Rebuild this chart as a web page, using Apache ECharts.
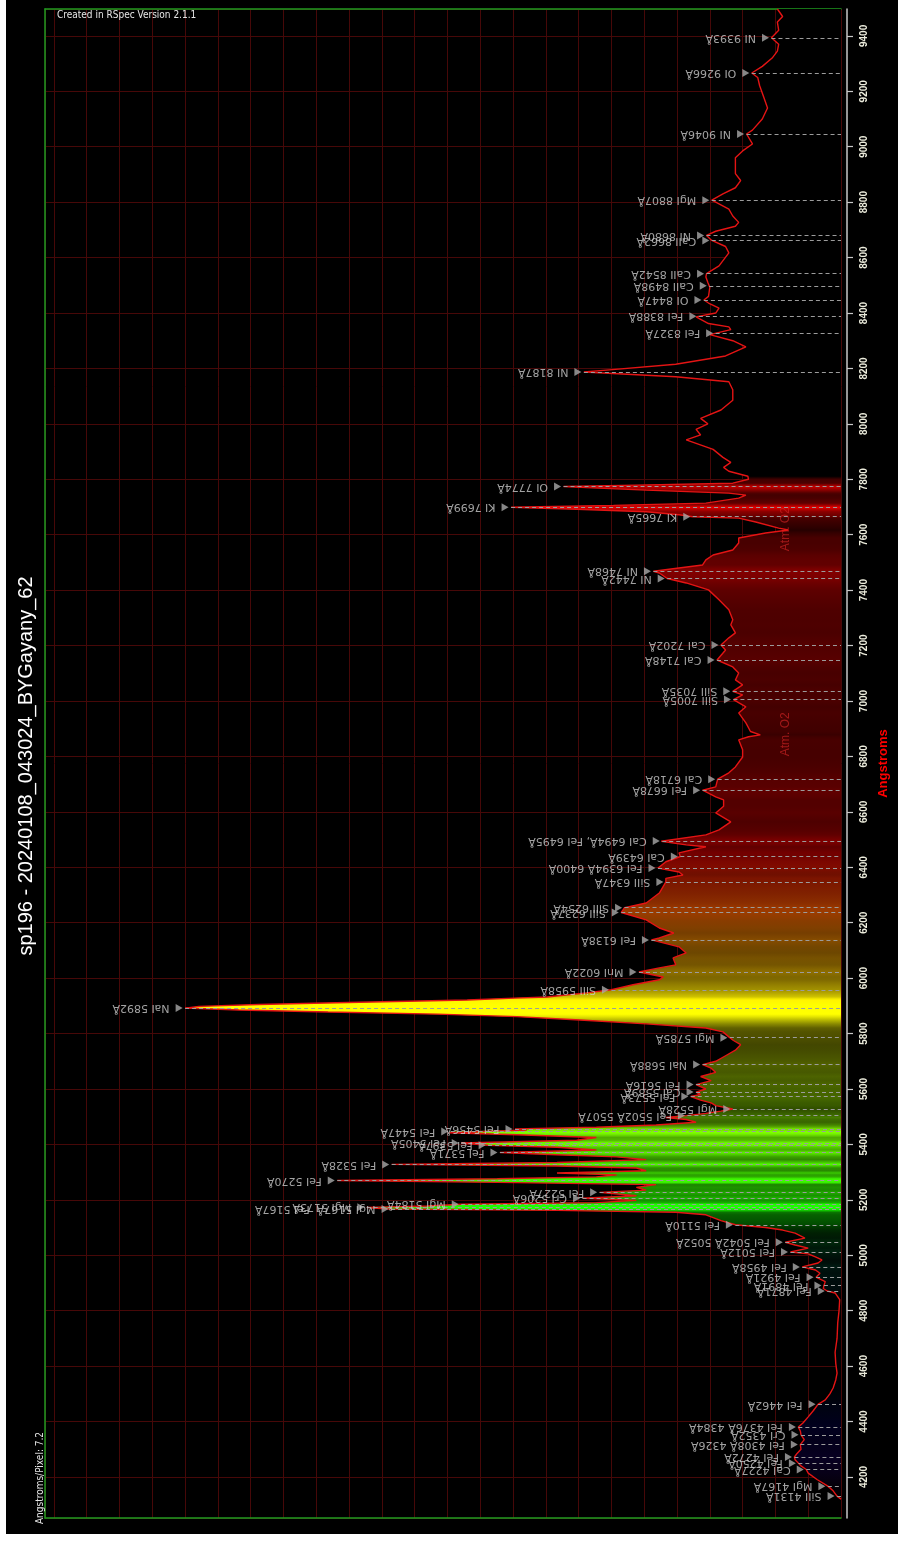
<!DOCTYPE html>
<html>
<head>
<meta charset="utf-8">
<script src="https://cdn.jsdelivr.net/npm/echarts@6/dist/echarts.min.js"></script>
<style>
  html, body { margin: 0; padding: 0; background: #ffffff; }
  #chart { position: absolute; left: 6px; top: 0; width: 892px; height: 1534px; background: #000000; }
</style>
</head>
<body>
<div id="chart"></div>
<script>
// Spectrum samples: wavelength (Angstrom) and normalised intensity (Na I peak = 1)
const wavelengths = [
  4120,4131,4150,4167,4190,4214,4227,4240,4250,4262,4272,4285,4300,4317,4335,4352,4366,4380,4395,4417,
  4440,4462,4478,4500,4521,4550,4575,4610,4650,4700,4756,4800,4840,4864,4871,4880,4891,4905,4921,4935,
  4947,4958,4972,4983,4994,5005,5012,5026,5037,5047,5062,5080,5091,5100,5110,5125,5146,5155,5162,5167,
  5170,5173,5178,5184,5190,5198,5206,5215,5227,5235,5245,5255,5263,5270,5276,5283,5290,5297,5305,5315,
  5322,5328,5335,5345,5355,5363,5371,5380,5390,5397,5405,5415,5425,5435,5442,5447,5452,5456,5462,5470,
  5480,5490,5497,5504,5512,5520,5528,5540,5550,5560,5573,5580,5589,5600,5616,5630,5645,5660,5675,5688,
  5700,5720,5740,5760,5775,5788,5806,5820,5835,5849,5861,5870,5878,5885,5892,5898,5905,5912,5921,5928,
  5932,5947,5958,5976,5994,6004,6022,6037,6048,6073,6091,6113,6138,6145,6163,6181,6210,6237,6254,6271,
  6307,6347,6360,6372,6383,6397,6420,6439,6452,6474,6481,6494,6517,6535,6564,6596,6620,6643,6654,6678,
  6690,6718,6741,6762,6798,6824,6860,6871,6878,6890,6921,6957,6979,7005,7022,7035,7058,7076,7101,7123,
  7148,7184,7202,7228,7246,7275,7293,7329,7365,7401,7426,7442,7462,7468,7480,7491,7509,7527,7545,7570,
  7588,7606,7617,7624,7646,7660,7665,7672,7683,7692,7699,7706,7714,7732,7743,7750,7761,7770,7774,7779,
  7786,7800,7811,7829,7843,7861,7879,7908,7942,7960,7980,8000,8020,8050,8085,8123,8152,8170,8187,8195,
  8215,8245,8278,8300,8322,8340,8350,8362,8386,8400,8418,8436,8447,8460,8493,8510,8530,8542,8570,8617,
  8640,8662,8680,8695,8713,8727,8750,8775,8800,8807,8830,8852,8878,8903,8960,8985,9010,9046,9060,9100,
  9140,9180,9220,9250,9266,9290,9320,9345,9370,9393,9420,9450,9470,9497
];
const intensities = [
  0.000,0.006,0.012,0.020,0.036,0.050,0.053,0.061,0.065,0.070,0.071,0.067,0.061,0.062,0.056,0.061,0.062,0.065,0.058,0.050,
  0.042,0.035,0.024,0.017,0.012,0.008,0.006,0.008,0.009,0.006,0.005,0.003,0.002,0.009,0.021,0.027,0.026,0.024,0.038,0.032,
  0.039,0.059,0.035,0.029,0.039,0.050,0.077,0.050,0.070,0.085,0.055,0.070,0.089,0.115,0.161,0.183,0.206,0.252,0.433,0.686,
  0.714,0.723,0.630,0.579,0.373,0.312,0.394,0.312,0.368,0.297,0.312,0.282,0.524,0.768,0.524,0.373,0.342,0.433,0.297,0.312,
  0.433,0.685,0.433,0.297,0.342,0.433,0.520,0.373,0.433,0.538,0.579,0.403,0.373,0.494,0.597,0.595,0.479,0.497,0.373,0.282,
  0.221,0.236,0.267,0.236,0.206,0.183,0.165,0.191,0.198,0.214,0.229,0.214,0.221,0.206,0.221,0.198,0.214,0.191,0.198,0.211,
  0.191,0.176,0.161,0.153,0.164,0.171,0.180,0.206,0.297,0.398,0.494,0.615,0.782,0.918,1.000,0.979,0.888,0.752,0.570,0.498,
  0.448,0.388,0.350,0.317,0.277,0.271,0.308,0.277,0.252,0.256,0.236,0.247,0.289,0.277,0.255,0.277,0.297,0.335,0.330,0.297,
  0.277,0.267,0.267,0.241,0.247,0.279,0.267,0.245,0.247,0.206,0.236,0.274,0.206,0.186,0.168,0.191,0.179,0.179,0.191,0.211,
  0.191,0.188,0.171,0.161,0.150,0.150,0.156,0.141,0.123,0.138,0.145,0.156,0.145,0.164,0.150,0.165,0.150,0.161,0.156,0.165,
  0.189,0.176,0.183,0.171,0.161,0.168,0.165,0.171,0.186,0.202,0.236,0.265,0.277,0.286,0.247,0.211,0.206,0.195,0.165,0.156,
  0.156,0.115,0.080,0.095,0.130,0.156,0.226,0.247,0.297,0.403,0.503,0.347,0.206,0.156,0.145,0.171,0.297,0.388,0.423,0.312,
  0.165,0.141,0.142,0.171,0.179,0.168,0.180,0.195,0.236,0.214,0.221,0.203,0.214,0.183,0.165,0.165,0.171,0.252,0.392,0.353,
  0.252,0.176,0.145,0.165,0.200,0.168,0.171,0.202,0.221,0.191,0.186,0.202,0.209,0.202,0.200,0.203,0.206,0.205,0.186,0.171,
  0.176,0.197,0.205,0.191,0.161,0.156,0.165,0.171,0.191,0.197,0.180,0.161,0.153,0.161,0.161,0.150,0.135,0.144,0.135,0.120,
  0.112,0.118,0.124,0.127,0.136,0.120,0.105,0.097,0.095,0.106,0.095,0.097,0.089,0.097
];

// Identified lines: label text and the wavelength it marks
const lineNames = [
  'SiII 4131Å','MgI 4167Å','CaI 4227Å','FeI 4250Å','FeI 4272Å','FeI 4308Å 4326Å','CrI 4352Å','FeI 4376Å 4384Å',
  'FeI 4462Å','FeI 4871Å','FeI 4891Å','FeI 4921Å','FeI 4958Å','FeI 5012Å','FeI 5042Å 5052Å','FeI 5110Å',
  'MgI 5167Å  FeI 5167Å','MgI 5173Å','MgI 5184Å','CrI 5206Å','FeI 5227Å','FeI 5270Å','FeI 5328Å','FeI 5371Å',
  'FeI 5397Å','FeI 5405Å','FeI 5447Å','FeI 5456Å','FeI 5502Å 5507Å','MgI 5528Å','FeI 5573Å','CaI 5589Å',
  'FeI 5616Å','NaI 5688Å','MgI 5785Å','NaI 5892Å','SiII 5958Å','MnI 6022Å','FeI 6138Å','SiII 6237Å',
  'SiII 6254Å','SiII 6347Å','FeI 6394Å 6400Å','CaI 6439Å','CaI 6494Å, FeI 6495Å','FeI 6678Å','CaI 6718Å',
  'SiII 7005Å','SiII 7035Å','CaI 7148Å','CaI 7202Å','NI 7442Å','NI 7468Å','KI 7665Å','KI 7699Å','OI 7774Å',
  'NI 8187Å','FeI 8327Å','FeI 8388Å','OI 8447Å','CaII 8498Å','CaII 8542Å','CaII 8662Å','NI 8680Å',
  'MgI 8807Å','NI 9046Å','OI 9266Å','NI 9393Å'
];
const lineWaves = [
  4131,4167,4227,4250,4272,4317,4352,4380,
  4462,4871,4891,4921,4958,5012,5047,5110,
  5167,5173,5184,5206,5227,5270,5328,5371,
  5397,5405,5447,5456,5504.5,5528,5573,5589,
  5616,5688,5785,5892,5958,6022,6138,6237,
  6254,6347,6397,6439,6494.5,6678,6718,
  7005,7035,7148,7202,7442,7468,7665,7699,7774,
  8187,8327,8388,8447,8498,8542,8662,8680,
  8807,9046,9266,9393
];

// Telluric absorption bands
const bandNames = ['Atm. O2', 'Atm. O2'];
const bandWaves = [6880, 7620];

const titleText = 'sp196 - 20240108_043024_BYGayany_62';

// ---- helpers ----
function intensityAt(w) {
  for (let i = 1; i < wavelengths.length; i++) {
    if (w <= wavelengths[i]) {
      const w0 = wavelengths[i - 1], w1 = wavelengths[i];
      const t = (w - w0) / (w1 - w0);
      return intensities[i - 1] + t * (intensities[i] - intensities[i - 1]);
    }
  }
  return intensities[intensities.length - 1];
}

// approximate visible colour of a wavelength (Angstrom); black outside 380-780 nm
function wavelengthRGB(w) {
  const nm = w / 10;
  let r = 0, g = 0, b = 0;
  if (nm < 380 || nm > 780) return [0, 0, 0];
  if (nm < 440) { r = -(nm - 440) / 60; b = 1; }
  else if (nm < 490) { g = (nm - 440) / 50; b = 1; }
  else if (nm < 510) { g = 1; b = -(nm - 510) / 20; }
  else if (nm < 580) { r = (nm - 510) / 70; g = 1; }
  else if (nm < 645) { r = 1; g = Math.min(1, (645 - nm) / 55); }
  else { r = 1; }
  const f = nm < 420 ? 0.3 + 0.7 * (nm - 380) / 40 : 1;
  return [r * f, g * f, b * f];
}

// fill brightness follows the local intensity
function fillColour(w, v) {
  const k = Math.min(1, Math.max(v, 0) / 0.55);
  const c = wavelengthRGB(w);
  return 'rgb(' + Math.round(c[0] * k * 255) + ',' + Math.round(c[1] * k * 255) + ',' + Math.round(c[2] * k * 255) + ')';
}

const X_MAX = 1.2136;
const GREEN = '#1f9a1f';
const GRID_RED = '#470808';

const chart = echarts.init(document.getElementById('chart'), null, { renderer: 'canvas' });

const option = {
  backgroundColor: '#000000',
  animation: false,
  grid: { left: 39, right: 52, top: 9, bottom: 16, containLabel: false },
  xAxis: [
    {
      type: 'value', inverse: true, min: 0, max: X_MAX, interval: 0.05, position: 'bottom',
      axisLine: { show: true, onZero: false, lineStyle: { color: GREEN, width: 1.5 } },
      axisTick: { show: false }, axisLabel: { show: false },
      splitLine: { show: true, lineStyle: { color: GRID_RED, width: 1 } }
    },
    {
      type: 'value', inverse: true, min: 0, max: X_MAX, position: 'top',
      axisLine: { show: true, onZero: false, lineStyle: { color: GREEN, width: 1.5 } },
      axisTick: { show: false }, axisLabel: { show: false }, splitLine: { show: false }
    }
  ],
  yAxis: [
    {
      type: 'value', min: 4052, max: 9497, splitNumber: 27, position: 'right', offset: 6,
      axisLine: { show: true, onZero: false, lineStyle: { color: '#c8c8c8', width: 1.5 } },
      axisTick: { show: true, length: 6, lineStyle: { color: '#c8c8c8', width: 1.2 } },
      axisLabel: {
        show: true, rotate: 90, margin: 12, color: '#ececdc', fontSize: 10, fontWeight: 'bold',
        fontFamily: 'Liberation Sans, Arial, sans-serif', showMinLabel: false, showMaxLabel: false,
        formatter: function (v) { return String(v); }
      },
      splitLine: { show: true, lineStyle: { color: GRID_RED, width: 1 } },
      name: 'Angstroms', nameLocation: 'middle', nameRotate: 90, nameGap: 30,
      nameTextStyle: { color: '#ff0000', fontWeight: 'bold', fontSize: 13, fontFamily: 'Liberation Sans, Arial, sans-serif' }
    },
    {
      type: 'value', min: 4052, max: 9497, position: 'left',
      axisLine: { show: true, onZero: false, lineStyle: { color: GREEN, width: 1.5 } },
      axisTick: { show: false }, axisLabel: { show: false }, splitLine: { show: false }
    }
  ],
  graphic: [
    {
      type: 'text', x: 20, y: 766, rotation: Math.PI / 2, z: 10,
      style: { text: titleText, fill: '#ffffff', font: '20px "Liberation Sans", Arial, sans-serif', textAlign: 'center', textVerticalAlign: 'middle' }
    },
    {
      type: 'text', x: 51, y: 10, z: 10,
      style: { text: 'Created in RSpec Version 2.1.1', fill: '#e6e6e6', font: '10px "Liberation Sans Narrow", "DejaVu Sans Condensed", sans-serif', textAlign: 'left', textVerticalAlign: 'top' }
    },
    {
      type: 'text', x: 34, y: 1478, rotation: Math.PI / 2, z: 10,
      style: { text: 'Angstroms/Pixel: 7.2', fill: '#e6e6e6', font: '10px "Liberation Sans Narrow", "DejaVu Sans Condensed", sans-serif', textAlign: 'center', textVerticalAlign: 'middle' }
    }
  ],
  series: [
    // synthetic-colour fill between spectrum and zero level
    {
      type: 'custom', xAxisIndex: 0, yAxisIndex: 0, silent: true, z: 1,
      data: [[0, wavelengths[0]]],
      renderItem: function (params, api) {
        const n = wavelengths.length;
        const pts = [api.coord([0, wavelengths[0]])];
        for (let i = 0; i < n; i++) pts.push(api.coord([intensities[i], wavelengths[i]]));
        pts.push(api.coord([0, wavelengths[n - 1]]));
        const yBot = api.coord([0, wavelengths[0]])[1];
        const yTop = api.coord([0, wavelengths[n - 1]])[1];
        const stops = wavelengths.map(function (w, i) {
          return { offset: (w - wavelengths[0]) / (wavelengths[n - 1] - wavelengths[0]), color: fillColour(w, intensities[i]) };
        });
        return {
          type: 'polygon',
          shape: { points: pts },
          style: { fill: new echarts.graphic.LinearGradient(0, yBot, 0, yTop, stops, true), stroke: null }
        };
      }
    },
    // spectrum trace
    {
      type: 'line', xAxisIndex: 0, yAxisIndex: 0, z: 3,
      data: wavelengths.map(function (w, i) { return [intensities[i], w]; }),
      showSymbol: false, symbol: 'none', silent: true,
      lineStyle: { color: '#e41414', width: 1.4 }
    },
    // line identifications
    {
      type: 'scatter', xAxisIndex: 0, yAxisIndex: 0, z: 5, silent: true,
      symbol: 'triangle', symbolSize: [8, 7], symbolRotate: -90, symbolOffset: [-6, 0],
      itemStyle: { color: '#a9a9a9' },
      data: lineWaves.map(function (w, i) { return { name: lineNames[i], value: [intensityAt(w), w] }; }),
      label: {
        show: true, formatter: '{b}', position: 'left', distance: 6, rotate: 180, align: 'left', verticalAlign: 'middle',
        color: '#cacaca', fontSize: 11, fontFamily: 'DejaVu Sans, sans-serif'
      },
      markLine: {
        silent: true, symbol: ['none', 'none'], animation: false,
        label: { show: false },
        lineStyle: { type: [4, 3], color: '#9c9c9c', width: 1 },
        data: lineWaves.map(function (w) { return [{ coord: [intensityAt(w), w] }, { coord: [0, w] }]; })
      }
    },
    // telluric band captions
    {
      type: 'scatter', xAxisIndex: 0, yAxisIndex: 0, z: 2, silent: true,
      symbol: 'circle', symbolSize: 1, itemStyle: { color: 'rgba(0,0,0,0)' },
      data: bandWaves.map(function (w, i) { return { name: bandNames[i], value: [0.085, w] }; }),
      label: {
        show: true, formatter: '{b}', position: 'inside', rotate: 90,
        color: 'rgba(205,35,35,0.85)', fontSize: 12, fontFamily: 'Liberation Sans, Arial, sans-serif'
      }
    }
  ]
};

chart.setOption(option);
</script>
</body>
</html>
